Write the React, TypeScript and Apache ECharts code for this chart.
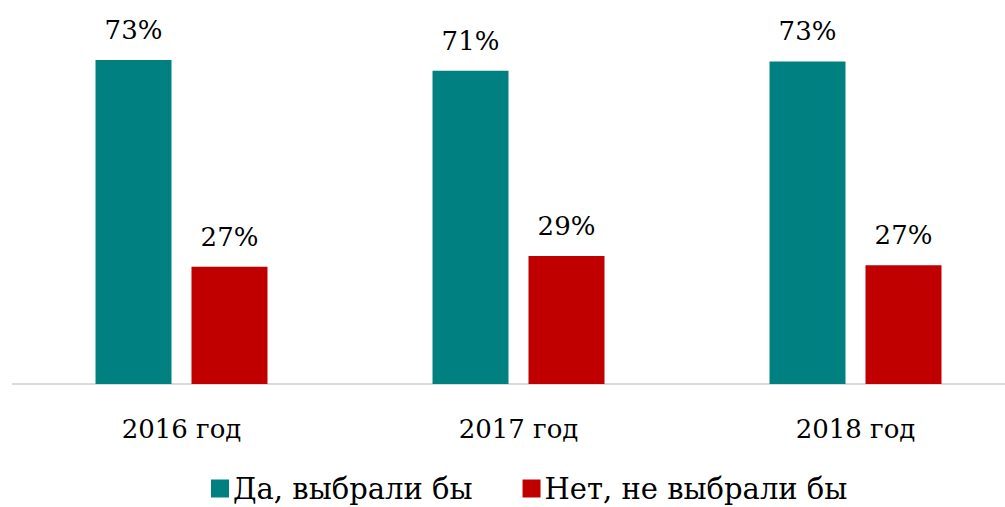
import React, { useEffect, useRef } from "react";
import * as echarts from "echarts";

const categories = ["2016 год", "2017 год", "2018 год"];
const yesValues = [73.4, 71.0, 73.1];
const noValues = [26.6, 29.0, 26.9];
const seriesNames = ["Да, выбрали бы", "Нет, не выбрали бы"];

const FONT = "'DejaVu Serif', serif";

export default function App() {
  const ref = useRef<HTMLDivElement>(null);
  useEffect(() => {
    if (!ref.current) return;
    const chart = echarts.init(ref.current, undefined, { renderer: "svg" });
    const label = {
      show: true,
      position: "top" as const,
      distance: 17,
      color: "#000",
      fontFamily: FONT,
      fontSize: 26,
      formatter: (p: any) => Math.round(p.value) + "%",
    };
    chart.setOption({
      animation: false,
      backgroundColor: "#fff",
      grid: { left: 13, right: 0, top: 31, bottom: 123, containLabel: false },
      legend: {
        left: 206,
        top: 469,
        itemWidth: 18,
        itemHeight: 18,
        itemGap: 50,
        icon: "rect",
        textStyle: { fontFamily: FONT, fontSize: 29, color: "#000", padding: [0, 0, 0, -1] },
        data: seriesNames,
      },
      xAxis: {
        type: "category",
        data: categories,
        axisLine: { show: true, lineStyle: { color: "#d9d9d9", width: 2 } },
        axisTick: { show: false },
        axisLabel: { color: "#000", fontFamily: FONT, fontSize: 26, margin: 32 },
        splitLine: { show: false },
      },
      yAxis: {
        type: "value",
        min: 0,
        max: 80,
        show: false,
        splitLine: { show: false },
      },
      series: [
        {
          name: seriesNames[0],
          type: "bar",
          data: yesValues,
          barWidth: 76,
          barGap: "26.3%",
          itemStyle: { color: "#008080" },
          label,
        },
        {
          name: seriesNames[1],
          type: "bar",
          data: noValues,
          barWidth: 76,
          itemStyle: { color: "#C00000" },
          label,
        },
      ],
    });
    return () => chart.dispose();
  }, []);
  return (
    <div style={{ position: "absolute", left: 0, top: 0, width: 1005, height: 507, overflow: "hidden", background: "#fff" }}>
      <div ref={ref} style={{ width: 1024, height: 507 }} />
    </div>
  );
}
